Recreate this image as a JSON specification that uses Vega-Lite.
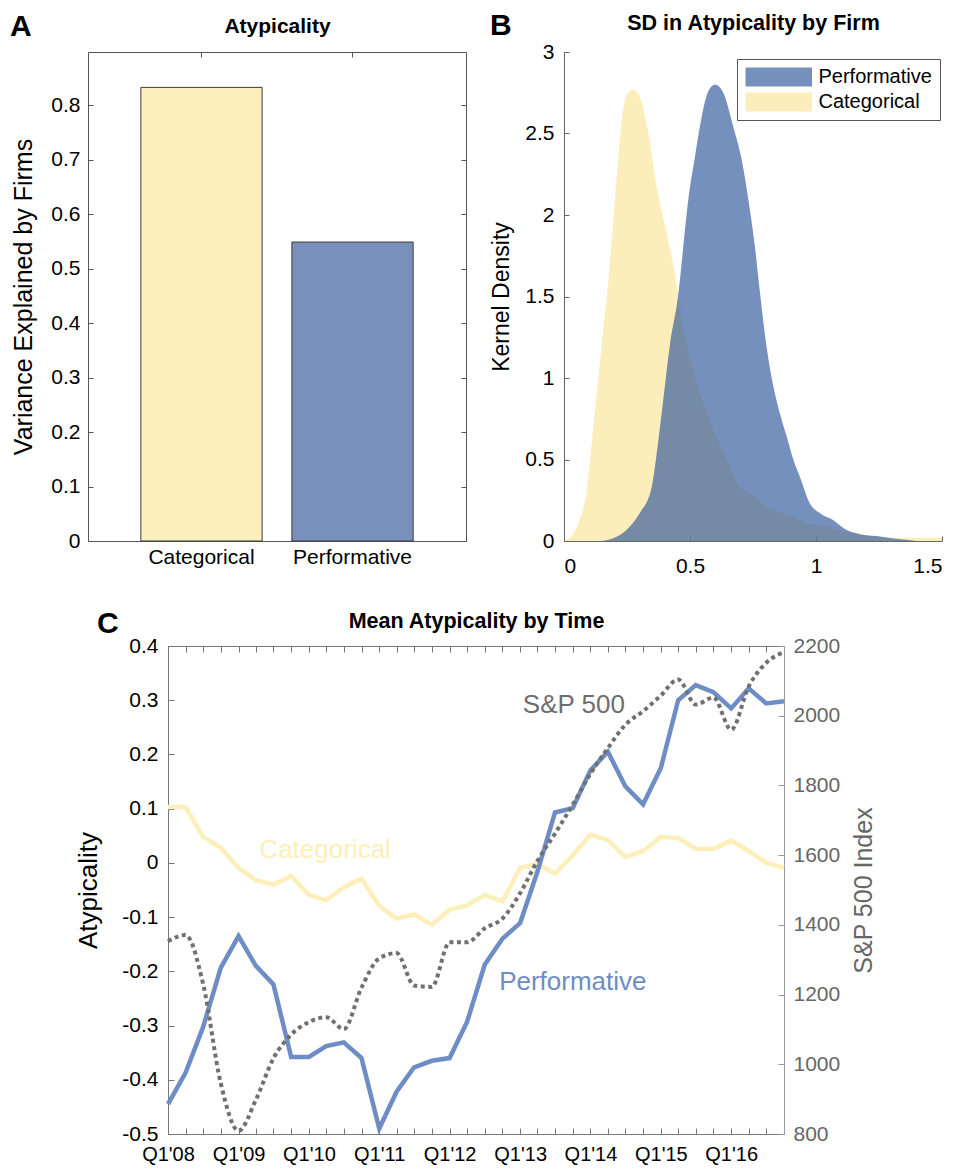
{
  "$schema": "https://vega.github.io/schema/vega-lite/v6.json",
  "background": "white",
  "padding": {"left": 10, "top": 11, "right": 5, "bottom": 5},
  "config": {
    "font": "Liberation Sans",
    "view": {"stroke": null},
    "axis": {"grid": false, "labelFont": "Liberation Sans", "titleFont": "Liberation Sans", "titleFontWeight": "normal", "labelColor": "#000", "titleColor": "#000", "domainColor": "#666", "tickColor": "#666", "labelFontSize": 21, "titleFontSize": 25},
    "title": {"font": "Liberation Sans", "fontSize": 30, "fontWeight": "bold", "anchor": "start", "frame": "group", "color": "#000"},
    "legend": {"labelFont": "Liberation Sans"}
  },
  "align": "each",
  "spacing": 33,
  "vconcat": [
    {
      "bounds": "flush",
      "spacing": 98,
      "resolve": {"scale": {"color": "independent"}, "legend": {"color": "independent"}},
      "hconcat": [
        {
          "width": 378,
          "height": 489,
          "title": {"text": "A", "dx": -78, "offset": -26},
          "data": {"values": [
            {"group": "Categorical", "variance": 0.833},
            {"group": "Performative", "variance": 0.549}
          ]},
          "resolve": {"axis": {"x": "independent", "y": "independent"}},
          "layer": [
            {
              "mark": {"type": "bar", "stroke": "#3c3c3c", "strokeWidth": 1},
              "encoding": {
                "x": {"field": "group", "type": "nominal", "scale": {"paddingInner": 0.197, "paddingOuter": 0.35},
                  "axis": {"orient": "bottom", "title": null, "labelAngle": 0, "tickSize": -5, "labelPadding": 10, "domainColor": "#555", "tickColor": "#555"}},
                "y": {"field": "variance", "type": "quantitative", "scale": {"domain": [0, 0.898], "nice": false},
                  "axis": {"orient": "left", "title": "Variance Explained by Firms", "values": [0, 0.1, 0.2, 0.3, 0.4, 0.5, 0.6, 0.7, 0.8], "format": "~g", "tickSize": -5, "labelPadding": 13, "titlePadding": 14, "domainColor": "#555", "tickColor": "#555"}},
                "color": {"field": "group", "type": "nominal", "scale": {"domain": ["Categorical", "Performative"], "range": ["#FCEFBB", "#7890BB"]}, "legend": null}
              }
            },
            {
              "mark": {"type": "bar", "opacity": 0},
              "encoding": {
                "x": {"field": "group", "type": "nominal",
                  "axis": {"orient": "top", "labels": false, "tickSize": -5, "title": "Atypicality", "titleFontWeight": "bold", "titleFontSize": 21, "titlePadding": 15, "domainColor": "#555", "tickColor": "#555"}},
                "y": {"field": "variance", "type": "quantitative",
                  "axis": {"orient": "right", "labels": false, "title": null, "values": [0, 0.1, 0.2, 0.3, 0.4, 0.5, 0.6, 0.7, 0.8], "tickSize": -5, "domainColor": "#555", "tickColor": "#555"}}
              }
            }
          ]
        },
        {
          "width": 378,
          "height": 489,
          "title": {"text": "B", "dx": -74, "offset": -29},
          "resolve": {"axis": {"x": "independent"}},
          "layer": [
            {
              "data": {"values": [
                {"group": "Categorical", "sd": 0, "density": 0},
                {"group": "Categorical", "sd": 0.03, "density": 0.03},
                {"group": "Categorical", "sd": 0.06, "density": 0.12},
                {"group": "Categorical", "sd": 0.09, "density": 0.31},
                {"group": "Categorical", "sd": 0.116, "density": 0.7},
                {"group": "Categorical", "sd": 0.15, "density": 1.21},
                {"group": "Categorical", "sd": 0.183, "density": 1.72},
                {"group": "Categorical", "sd": 0.209, "density": 2.23},
                {"group": "Categorical", "sd": 0.229, "density": 2.58},
                {"group": "Categorical", "sd": 0.249, "density": 2.74},
                {"group": "Categorical", "sd": 0.273, "density": 2.77},
                {"group": "Categorical", "sd": 0.302, "density": 2.72},
                {"group": "Categorical", "sd": 0.335, "density": 2.5},
                {"group": "Categorical", "sd": 0.368, "density": 2.17},
                {"group": "Categorical", "sd": 0.407, "density": 1.89},
                {"group": "Categorical", "sd": 0.44, "density": 1.64},
                {"group": "Categorical", "sd": 0.46, "density": 1.44},
                {"group": "Categorical", "sd": 0.487, "density": 1.21},
                {"group": "Categorical", "sd": 0.52, "density": 1.01},
                {"group": "Categorical", "sd": 0.553, "density": 0.84},
                {"group": "Categorical", "sd": 0.593, "density": 0.68},
                {"group": "Categorical", "sd": 0.646, "density": 0.5},
                {"group": "Categorical", "sd": 0.698, "density": 0.33},
                {"group": "Categorical", "sd": 0.751, "density": 0.28},
                {"group": "Categorical", "sd": 0.804, "density": 0.21},
                {"group": "Categorical", "sd": 0.87, "density": 0.17},
                {"group": "Categorical", "sd": 0.923, "density": 0.14},
                {"group": "Categorical", "sd": 0.976, "density": 0.1},
                {"group": "Categorical", "sd": 1.042, "density": 0.09},
                {"group": "Categorical", "sd": 1.108, "density": 0.056},
                {"group": "Categorical", "sd": 1.2, "density": 0.036},
                {"group": "Categorical", "sd": 1.333, "density": 0.02},
                {"group": "Categorical", "sd": 1.5, "density": 0.02}
              ]},
              "mark": {"type": "area", "interpolate": "monotone", "fillOpacity": 0.62},
              "encoding": {
                "x": {"field": "sd", "type": "quantitative", "scale": {"domain": [0, 1.5], "nice": false},
                  "axis": {"orient": "bottom", "title": null, "values": [0, 0.5, 1, 1.5], "format": "~g", "tickSize": -5, "labelPadding": 19}},
                "y": {"field": "density", "type": "quantitative", "stack": null, "scale": {"domain": [0, 3], "nice": false},
                  "axis": {"title": "Kernel Density", "values": [0, 0.5, 1, 1.5, 2, 2.5, 3], "format": "~g", "tickSize": -5, "labelPadding": 15, "titleFontSize": 23, "titlePadding": 11}},
                "color": {"field": "group", "type": "nominal",
                  "scale": {"domain": ["Performative", "Categorical"], "range": ["#224C96", "#FAE491"]},
                  "legend": {"orient": "none", "legendX": 173, "legendY": 7, "title": null, "labelFontSize": 20, "labelColor": "#000",
                    "symbolType": "M-1,-1H6V1H-1Z", "symbolSize": 361, "symbolStrokeWidth": 0, "symbolOpacity": 0.62, "labelOffset": 53.5,
                    "padding": 8, "rowPadding": 5, "strokeColor": "#555", "fillColor": "#fff"}}
              }
            },
            {
              "data": {"values": [
                {"group": "Performative", "sd": 0.15, "density": 0},
                {"group": "Performative", "sd": 0.2, "density": 0.02},
                {"group": "Performative", "sd": 0.25, "density": 0.07},
                {"group": "Performative", "sd": 0.3, "density": 0.17},
                {"group": "Performative", "sd": 0.348, "density": 0.33},
                {"group": "Performative", "sd": 0.381, "density": 0.7},
                {"group": "Performative", "sd": 0.421, "density": 1.21},
                {"group": "Performative", "sd": 0.454, "density": 1.52},
                {"group": "Performative", "sd": 0.473, "density": 1.8},
                {"group": "Performative", "sd": 0.493, "density": 2.09},
                {"group": "Performative", "sd": 0.52, "density": 2.36},
                {"group": "Performative", "sd": 0.546, "density": 2.6},
                {"group": "Performative", "sd": 0.573, "density": 2.76},
                {"group": "Performative", "sd": 0.599, "density": 2.8},
                {"group": "Performative", "sd": 0.632, "density": 2.75},
                {"group": "Performative", "sd": 0.672, "density": 2.54},
                {"group": "Performative", "sd": 0.705, "density": 2.34},
                {"group": "Performative", "sd": 0.732, "density": 2.09},
                {"group": "Performative", "sd": 0.758, "density": 1.8},
                {"group": "Performative", "sd": 0.778, "density": 1.52},
                {"group": "Performative", "sd": 0.804, "density": 1.19},
                {"group": "Performative", "sd": 0.837, "density": 0.905},
                {"group": "Performative", "sd": 0.857, "density": 0.78},
                {"group": "Performative", "sd": 0.884, "density": 0.64},
                {"group": "Performative", "sd": 0.91, "density": 0.5},
                {"group": "Performative", "sd": 0.937, "density": 0.39},
                {"group": "Performative", "sd": 0.976, "density": 0.23},
                {"group": "Performative", "sd": 1.016, "density": 0.17},
                {"group": "Performative", "sd": 1.069, "density": 0.128},
                {"group": "Performative", "sd": 1.122, "density": 0.067},
                {"group": "Performative", "sd": 1.175, "density": 0.042},
                {"group": "Performative", "sd": 1.24, "density": 0.03},
                {"group": "Performative", "sd": 1.333, "density": 0.01},
                {"group": "Performative", "sd": 1.4, "density": 0}
              ]},
              "mark": {"type": "area", "interpolate": "monotone", "fillOpacity": 0.62},
              "encoding": {
                "x": {"field": "sd", "type": "quantitative",
                  "axis": {"orient": "top", "domain": false, "ticks": false, "labels": false, "title": "SD in Atypicality by Firm", "titleFontWeight": "bold", "titleFontSize": 21.5, "titlePadding": 18}},
                "y": {"field": "density", "type": "quantitative", "stack": null},
                "color": {"field": "group", "type": "nominal"}
              }
            }
          ]
        }
      ]
    },
    {
      "bounds": "flush",
      "spacing": 20,
      "hconcat": [
        {
          "width": 60,
          "height": 10,
          "data": {"values": [{"blank": ""}]},
          "mark": {"type": "text", "text": ""},
          "encoding": {}
        },
        {
          "width": 616,
          "height": 488,
          "title": {"text": "C", "dx": -71, "offset": -29},
          "resolve": {"scale": {"y": "independent"}, "axis": {"x": "independent"}},
          "layer": [
            {
              "data": {"name": "series"},
              "layer": [
                {
                  "mark": {"type": "line", "color": "#FCEFB9", "strokeWidth": 4.5},
                  "encoding": {
                    "x": {"field": "date", "type": "temporal",
                      "scale": {"type": "utc", "nice": false, "domain": [{"year": 2008, "month": 1, "date": 1, "utc": true}, {"year": 2016, "month": 10, "date": 1, "utc": true}]},
                      "axis": {"orient": "bottom", "title": null, "tickCount": {"interval": "month", "step": 3},
                        "labelExpr": "utcmonth(datum.value) == 0 ? \"Q1'\" + utcFormat(datum.value, '%y') : ''",
                        "labelOverlap": false, "labelFlush": false, "tickSize": -6, "labelPadding": 16, "labelFontSize": 20, "domainColor": "#777", "tickColor": "#777"}},
                    "y": {"field": "categorical", "type": "quantitative", "scale": {"domain": [-0.5, 0.4], "nice": false, "zero": false},
                      "axis": {"orient": "left", "title": "Atypicality", "values": [-0.5, -0.4, -0.3, -0.2, -0.1, 0, 0.1, 0.2, 0.3, 0.4],
                        "labelExpr": "'' + datum.value", "tickSize": -6, "labelPadding": 16, "titleFontSize": 26, "titlePadding": 20, "domainColor": "#777", "tickColor": "#777"}}
                  }
                },
                {
                  "mark": {"type": "line", "color": "#6D8DC4", "strokeWidth": 4.5},
                  "encoding": {
                    "x": {"field": "date", "type": "temporal"},
                    "y": {"field": "performative", "type": "quantitative"}
                  }
                },
                {
                  "data": {"values": [{"date": "2009-04-19", "value": 0.024, "label": "Categorical"}]},
                  "mark": {"type": "text", "align": "left", "baseline": "middle", "fontSize": 26, "color": "#FCEFB9", "font": "Liberation Sans"},
                  "encoding": {
                    "x": {"field": "date", "type": "temporal"},
                    "y": {"field": "value", "type": "quantitative"},
                    "text": {"field": "label"}
                  }
                },
                {
                  "data": {"values": [{"date": "2012-09-14", "value": -0.22, "label": "Performative"}]},
                  "mark": {"type": "text", "align": "left", "baseline": "middle", "fontSize": 26, "color": "#6D8DC4", "font": "Liberation Sans"},
                  "encoding": {
                    "x": {"field": "date", "type": "temporal"},
                    "y": {"field": "value", "type": "quantitative"},
                    "text": {"field": "label"}
                  }
                }
              ]
            },
            {
              "layer": [
                {
                  "data": {"name": "series"},
                  "mark": {"type": "line", "color": "#707070", "strokeWidth": 4, "strokeDash": [4, 3.5], "interpolate": "monotone"},
                  "encoding": {
                    "x": {"field": "date", "type": "temporal",
                      "axis": {"orient": "top", "labels": false, "title": "Mean Atypicality by Time", "titleFontWeight": "bold", "titleFontSize": 21.5, "titlePadding": 13.5,
                        "tickCount": {"interval": "month", "step": 3}, "tickSize": -6, "domainColor": "#777", "tickColor": "#777"}},
                    "y": {"field": "sp500", "type": "quantitative", "scale": {"domain": [800, 2200], "nice": false, "zero": false},
                      "axis": {"orient": "right", "title": "S&P 500 Index", "titleAngle": 270, "titleBaseline": "top", "values": [800, 1000, 1200, 1400, 1600, 1800, 2000, 2200], "format": "d",
                        "tickSize": -6, "labelPadding": 15, "labelColor": "#666", "titleColor": "#666", "titlePadding": 12, "domainColor": "#999", "tickColor": "#999"}}
                  }
                },
                {
                  "data": {"values": [{"date": "2013-01-15", "value": 2031, "label": "S&P 500"}]},
                  "mark": {"type": "text", "align": "left", "baseline": "middle", "fontSize": 26, "color": "#6e6e6e", "font": "Liberation Sans"},
                  "encoding": {
                    "x": {"field": "date", "type": "temporal"},
                    "y": {"field": "value", "type": "quantitative"},
                    "text": {"field": "label"}
                  }
                }
              ]
            }
          ]
        }
      ]
    }
  ],
  "datasets": {
    "series": [
      {"date": "2008-01-01", "categorical": 0.103, "performative": -0.445, "sp500": 1353},
      {"date": "2008-04-01", "categorical": 0.103, "performative": -0.387, "sp500": 1371},
      {"date": "2008-07-01", "categorical": 0.048, "performative": -0.303, "sp500": 1231},
      {"date": "2008-10-01", "categorical": 0.028, "performative": -0.193, "sp500": 945},
      {"date": "2009-01-01", "categorical": -0.009, "performative": -0.135, "sp500": 809},
      {"date": "2009-04-01", "categorical": -0.032, "performative": -0.19, "sp500": 898},
      {"date": "2009-07-01", "categorical": -0.04, "performative": -0.224, "sp500": 1017},
      {"date": "2009-10-01", "categorical": -0.024, "performative": -0.358, "sp500": 1085},
      {"date": "2010-01-01", "categorical": -0.059, "performative": -0.358, "sp500": 1121},
      {"date": "2010-04-01", "categorical": -0.069, "performative": -0.338, "sp500": 1135},
      {"date": "2010-07-01", "categorical": -0.045, "performative": -0.331, "sp500": 1101},
      {"date": "2010-10-01", "categorical": -0.029, "performative": -0.36, "sp500": 1220},
      {"date": "2011-01-01", "categorical": -0.079, "performative": -0.49, "sp500": 1304},
      {"date": "2011-04-01", "categorical": -0.103, "performative": -0.422, "sp500": 1319},
      {"date": "2011-07-01", "categorical": -0.095, "performative": -0.377, "sp500": 1226},
      {"date": "2011-10-01", "categorical": -0.114, "performative": -0.365, "sp500": 1222},
      {"date": "2012-01-01", "categorical": -0.086, "performative": -0.36, "sp500": 1350},
      {"date": "2012-04-01", "categorical": -0.079, "performative": -0.293, "sp500": 1350},
      {"date": "2012-07-01", "categorical": -0.059, "performative": -0.188, "sp500": 1390},
      {"date": "2012-10-01", "categorical": -0.071, "performative": -0.14, "sp500": 1418},
      {"date": "2013-01-01", "categorical": -0.009, "performative": -0.111, "sp500": 1491},
      {"date": "2013-04-01", "categorical": -0.002, "performative": -0.016, "sp500": 1584},
      {"date": "2013-07-01", "categorical": -0.02, "performative": 0.093, "sp500": 1662},
      {"date": "2013-10-01", "categorical": 0.014, "performative": 0.101, "sp500": 1745},
      {"date": "2014-01-01", "categorical": 0.052, "performative": 0.171, "sp500": 1834},
      {"date": "2014-04-01", "categorical": 0.042, "performative": 0.205, "sp500": 1907},
      {"date": "2014-07-01", "categorical": 0.011, "performative": 0.141, "sp500": 1974},
      {"date": "2014-10-01", "categorical": 0.022, "performative": 0.108, "sp500": 2013},
      {"date": "2015-01-01", "categorical": 0.048, "performative": 0.175, "sp500": 2058},
      {"date": "2015-04-01", "categorical": 0.046, "performative": 0.3, "sp500": 2104},
      {"date": "2015-07-01", "categorical": 0.026, "performative": 0.328, "sp500": 2032},
      {"date": "2015-10-01", "categorical": 0.026, "performative": 0.315, "sp500": 2052},
      {"date": "2016-01-01", "categorical": 0.041, "performative": 0.285, "sp500": 1960},
      {"date": "2016-04-01", "categorical": 0.022, "performative": 0.322, "sp500": 2084},
      {"date": "2016-07-01", "categorical": 0.0, "performative": 0.294, "sp500": 2152},
      {"date": "2016-10-01", "categorical": -0.009, "performative": 0.298, "sp500": 2182}
    ]
  }
}
